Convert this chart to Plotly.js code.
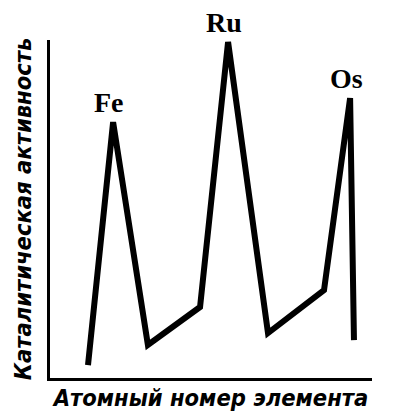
<!DOCTYPE html>
<html>
<head>
<meta charset="utf-8">
<script src="https://cdn.plot.ly/plotly-3.0.1.min.js"></script>
<style>html,body{margin:0;padding:0;background:#fff;}#chart{width:394px;height:414px;}</style>
</head>
<body>
<div id="chart"></div>
<script>
// Schematic curve (arbitrary units)
const xPos = [11.8, 19.6, 30.4, 46.6, 55.3, 67.7, 85.1, 93.2, 94.4];
const activity = [3.8, 75.7, 9.8, 21.0, 99.4, 13.3, 26.0, 82.8, 11.2];
const peakLabels = ['Fe', 'Ru', 'Os'];
const peakIndex = [1, 4, 7];
const xTitle = 'Атомный номер элемента';
const yTitle = 'Каталитическая активность';

const serif = '"Liberation Serif", "Times New Roman", "DejaVu Serif", serif';
const titleFont = '"DejaVu Sans Condensed", "DejaVu Sans", sans-serif';

const annotations = peakLabels.map((t, i) => ({
  x: xPos[peakIndex[i]], y: activity[peakIndex[i]], xref: 'x', yref: 'y',
  text: t, showarrow: false, xanchor: 'center', yanchor: 'middle',
  xshift: -4, yshift: 20,
  font: {family: serif, size: 28, color: '#000', weight: 'bold'}
}));

const data = [{
  x: xPos, y: activity, type: 'scatter', mode: 'lines',
  line: {color: '#000', width: 6}, hoverinfo: 'skip'
}];

const layout = {
  width: 394, height: 414,
  margin: {l: 50, r: 22, t: 40, b: 36},
  paper_bgcolor: '#fff', plot_bgcolor: '#fff',
  showlegend: false,
  xaxis: {
    range: [0, 100], showgrid: false, zeroline: false, showticklabels: false, ticks: '',
    showline: true, linecolor: '#000', linewidth: 3,
    title: {text: xTitle, standoff: 10,
      font: {family: titleFont, size: 23.5, color: '#000', style: 'italic', weight: 'bold'}}
  },
  yaxis: {
    range: [0, 100], showgrid: false, zeroline: false, showticklabels: false, ticks: '',
    showline: true, linecolor: '#000', linewidth: 3,
    title: {text: yTitle, standoff: 9,
      font: {family: titleFont, size: 23.5, color: '#000', style: 'italic', weight: 'bold'}}
  },
  annotations: annotations
};

Plotly.newPlot('chart', data, layout, {displayModeBar: false, staticPlot: true});
</script>
</body>
</html>
